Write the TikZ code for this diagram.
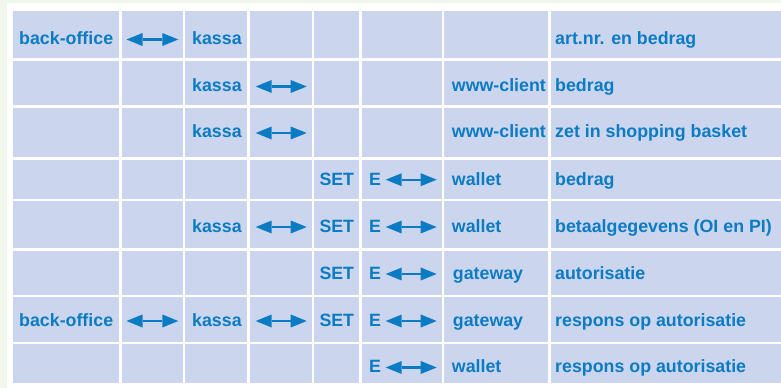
\documentclass[tikz,border=0pt]{standalone}
\usepackage{fontspec}
\setmainfont{Liberation Sans}
\usetikzlibrary{arrows.meta}
\definecolor{bgg}{HTML}{F1F6EC}
\definecolor{cellc}{HTML}{CBD5ED}
\definecolor{txt}{HTML}{0B7BC3}
\begin{document}
\begin{tikzpicture}[x=1pt,y=-1pt,
  lbl/.style={anchor=base west,inner sep=0pt,text=txt,font=\bfseries\fontsize{17.8}{20}\selectfont},
  dbl/.style={draw=txt,line width=2.4pt,{Triangle[length=16pt,width=13pt,line width=0pt]}-{Triangle[length=16pt,width=13pt,line width=0pt]}}]
\useasboundingbox (0,0) rectangle (781,388);
\fill[bgg] (0,0) rectangle (781,388);
\fill[white] (7,3) rectangle (781,388);
% cells
\foreach \xa/\xb in {13/119.3,121.7/183,185.3/247,250/312,314.3/359,362/442,444.3/548.3,550.7/781}{
  \foreach \ya/\yb in {11/58.3,60.7/105,107.7/157,159.5/198.7,201/248,250.7/294.7,297/341.7,344.3/382.6}{
    \fill[cellc] (\xa,\ya) rectangle (\xb,\yb);
  }
}
% row 1
\node[lbl] (r1a) at (19,44.5) {back-office};
\node[lbl] (r1b) at (192,44.5) {kassa};
\node[lbl] (r1c) at (555,44.5) {art.nr. en bedrag};
\coordinate (a1s) at (126.5,39.5); \coordinate (a1e) at (178.3,39.5);
\draw[dbl] (a1s) -- (a1e);
% row 2
\node[lbl] (r2a) at (192,91) {kassa};
\node[lbl] (r2b) at (451.7,91) {www-client};
\node[lbl] (r2c) at (555,91) {bedrag};
\coordinate (a2s) at (255.7,86.5); \coordinate (a2e) at (306.7,86.5);
\draw[dbl] (a2s) -- (a2e);
% row 3
\node[lbl] (r3a) at (192,137.5) {kassa};
\node[lbl] (r3b) at (451.7,137.5) {www-client};
\node[lbl] (r3c) at (555,137.5) {zet in shopping basket};
\coordinate (a3s) at (255.7,133); \coordinate (a3e) at (306.7,133);
\draw[dbl] (a3s) -- (a3e);
% row 4
\node[lbl] (r4a) at (319.3,185) {SET};
\node[lbl] (r4b) at (369,185) {E};
\node[lbl] (r4c) at (451.7,185) {wallet};
\node[lbl] (r4d) at (555,185) {bedrag};
\coordinate (a4s) at (385.7,179.7); \coordinate (a4e) at (436.7,179.7);
\draw[dbl] (a4s) -- (a4e);
% row 5
\node[lbl] (r5a) at (192,232.3) {kassa};
\node[lbl] (r5b) at (319.3,232.3) {SET};
\node[lbl] (r5c) at (369,232.3) {E};
\node[lbl] (r5d) at (451.7,232.3) {wallet};
\node[lbl] (r5e) at (555,232.3) {betaalgegevens (OI en PI)};
\coordinate (a5s) at (255.7,227); \coordinate (a5e) at (306.7,227);
\draw[dbl] (a5s) -- (a5e);
\coordinate (a6s) at (385.7,227); \coordinate (a6e) at (436.7,227);
\draw[dbl] (a6s) -- (a6e);
% row 6
\node[lbl] (r6a) at (319.3,279.3) {SET};
\node[lbl] (r6b) at (369,279.3) {E};
\node[lbl] (r6c) at (452.7,279.3) {gateway};
\node[lbl] (r6d) at (555,279.3) {autorisatie};
\coordinate (a7s) at (385.7,274); \coordinate (a7e) at (436.7,274);
\draw[dbl] (a7s) -- (a7e);
% row 7
\node[lbl] (r7a) at (19,326.7) {back-office};
\node[lbl] (r7b) at (192,326.7) {kassa};
\node[lbl] (r7c) at (319.3,326.7) {SET};
\node[lbl] (r7d) at (369,326.7) {E};
\node[lbl] (r7e) at (452.7,326.7) {gateway};
\node[lbl] (r7f) at (555,326.7) {respons op autorisatie};
\coordinate (a8s) at (126.5,321); \coordinate (a8e) at (178.3,321);
\draw[dbl] (a8s) -- (a8e);
\coordinate (a9s) at (255.7,321); \coordinate (a9e) at (306.7,321);
\draw[dbl] (a9s) -- (a9e);
\coordinate (a10s) at (385.7,321); \coordinate (a10e) at (436.7,321);
\draw[dbl] (a10s) -- (a10e);
% row 8
\node[lbl] (r8a) at (369,372.7) {E};
\node[lbl] (r8b) at (451.7,372.7) {wallet};
\node[lbl] (r8c) at (555,372.7) {respons op autorisatie};
\coordinate (a11s) at (385.7,367.5); \coordinate (a11e) at (436.7,367.5);
\draw[dbl] (a11s) -- (a11e);
\end{tikzpicture}
\end{document}
